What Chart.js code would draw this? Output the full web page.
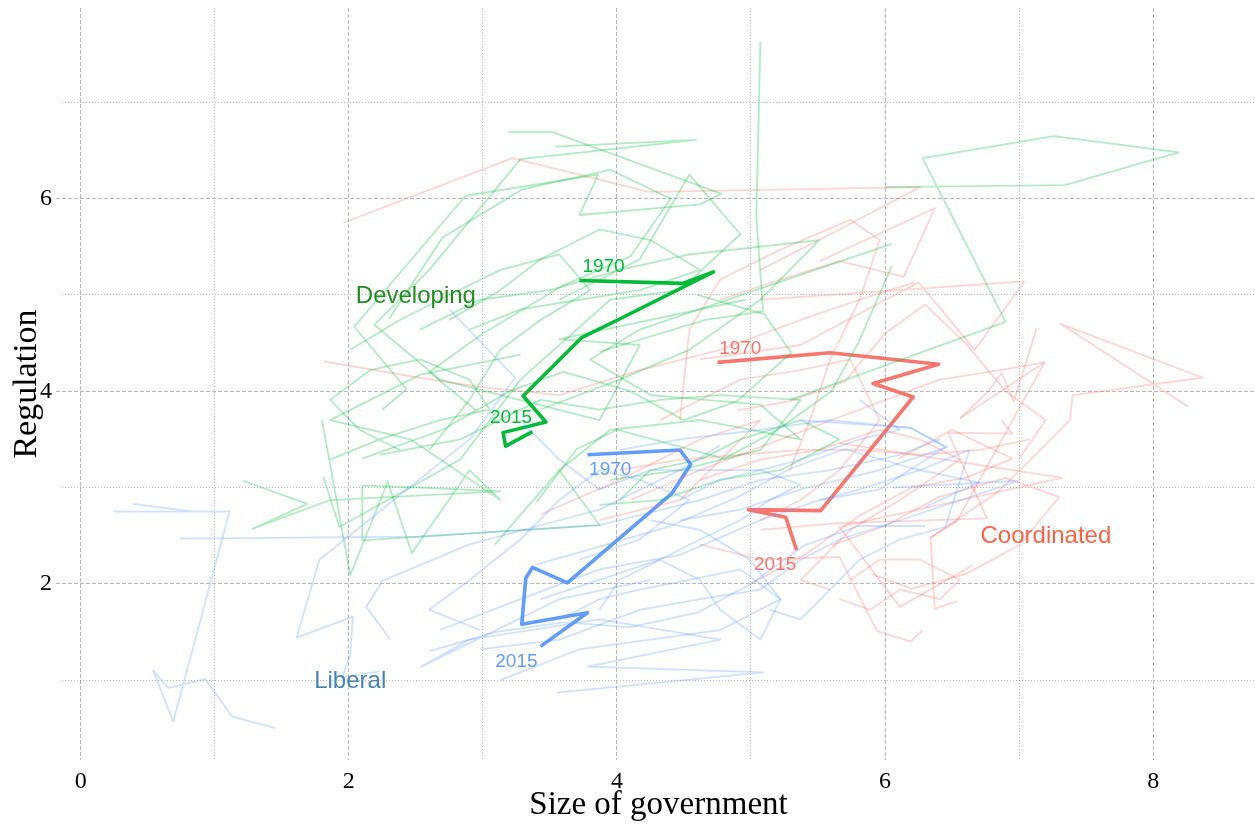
<!DOCTYPE html>
<html>
<head>
<meta charset="utf-8">
<script src="https://cdn.jsdelivr.net/npm/chart.js@4.4.1/dist/chart.umd.min.js"></script>
<style>
  html, body { margin: 0; padding: 0; background: #fff; }
  #chart { display: block; }
</style>
</head>
<body>
<canvas id="chart" width="1255" height="825"></canvas>
<script>
// axis ticks
const xTicks = [0, 1, 2, 3, 4, 5, 6, 7, 8];
const yTicks = [1, 2, 3, 4, 5, 6, 7];

// group averages, 1970 -> 2015
const developingMean = [[3.72, 5.15], [4.49, 5.12], [4.72, 5.24], [4.02, 4.75], [3.74, 4.56],
    [3.30, 3.95], [3.47, 3.68], [3.15, 3.57], [3.17, 3.43], [3.37, 3.58]];
const liberalMean = [[3.78, 3.34], [4.47, 3.39], [4.55, 3.24], [4.41, 2.94], [3.63, 2.01],
    [3.37, 2.17], [3.32, 2.06], [3.29, 1.58], [3.78, 1.70], [3.43, 1.35]];
const coordinatedMean = [[4.75, 4.30], [5.59, 4.40], [6.40, 4.28], [5.91, 4.08], [6.21, 3.94],
    [5.52, 2.76], [4.98, 2.77], [5.26, 2.69], [5.34, 2.35]];

// single countries
const developingPaths = [
    [[3.19, 6.69], [3.52, 6.69], [4.78, 6.05], [4.62, 5.94], [3.72, 5.83], [3.86, 6.25], [2.87, 6.03], [2.04, 4.67], [2.43, 4.02], [2.25, 3.81]],
    [[3.54, 6.54], [4.59, 6.61], [3.28, 6.41], [2.60, 5.26], [2.19, 4.69], [2.68, 4.12], [3.87, 3.70], [4.17, 4.48], [3.57, 4.54], [4.96, 4.95]],
    [[1.80, 3.70], [2.01, 2.09], [2.29, 3.06], [2.47, 2.32], [2.90, 3.18], [3.13, 2.87], [2.46, 3.50], [1.86, 3.70], [2.53, 4.17], [3.28, 4.38]],
    [[1.21, 3.07], [1.69, 2.83], [1.28, 2.57], [1.86, 2.87], [3.13, 2.96], [2.53, 3.00], [2.10, 3.02], [2.10, 2.45], [3.87, 2.61], [3.57, 3.18]],
    [[1.81, 3.11], [1.93, 2.59], [2.83, 3.29], [3.28, 4.12], [3.95, 4.95], [4.47, 5.05], [4.92, 5.63], [4.54, 6.25], [4.17, 5.37], [3.57, 4.95]],
    [[3.87, 4.41], [4.66, 4.74], [5.09, 4.83], [5.04, 5.81], [5.07, 7.63]],
    [[5.29, 3.91], [6.90, 4.72], [6.28, 6.42], [7.26, 6.65], [8.19, 6.48], [7.34, 6.14], [6.00, 6.12]],
    [[3.09, 2.41], [3.57, 3.18], [3.95, 3.60], [4.62, 3.70], [5.37, 3.50], [5.07, 3.86], [4.25, 3.96], [3.80, 4.33], [4.17, 4.64], [6.05, 5.53]],
    [[2.53, 4.64], [2.98, 4.95], [3.50, 5.05], [4.02, 5.26], [4.54, 5.42], [5.51, 5.57], [5.07, 4.95], [4.54, 4.43], [4.02, 4.12], [3.43, 3.81]],
    [[2.23, 3.34], [2.83, 3.50], [3.43, 3.91], [3.87, 3.81], [4.32, 3.91], [4.77, 3.96], [5.37, 3.91], [5.07, 3.39], [4.47, 3.18], [3.95, 3.08]],
    [[2.60, 3.39], [2.90, 3.91], [3.13, 4.43], [3.43, 4.74], [3.80, 5.05], [3.57, 5.42], [3.13, 5.26], [2.68, 4.95], [2.38, 4.74], [2.01, 4.43]],
    [[3.87, 2.82], [4.32, 2.87], [4.77, 3.08], [5.22, 3.18], [5.66, 3.50], [5.37, 3.70], [4.92, 3.50], [4.62, 3.29], [4.25, 3.18], [4.02, 2.87]],
    [[2.90, 4.64], [3.28, 4.85], [3.72, 4.95], [4.17, 5.05], [4.62, 5.26], [4.25, 5.57], [3.87, 5.68], [3.43, 5.37], [3.13, 5.05], [2.75, 4.74]],
    [[1.86, 3.29], [2.23, 3.50], [2.68, 3.70], [3.05, 3.81], [2.90, 4.12], [2.53, 4.33], [2.16, 4.22], [1.86, 3.91], [2.08, 3.60], [2.38, 3.39]],
    [[2.30, 4.75], [2.70, 5.60], [3.30, 6.10], [3.95, 6.30], [4.40, 6.00], [4.10, 5.40], [3.60, 5.10], [3.00, 4.60], [2.60, 4.20], [2.95, 3.80]],
    [[2.10, 3.30], [2.70, 3.60], [3.20, 4.00], [3.60, 4.20], [4.10, 4.00], [4.50, 3.70], [4.90, 3.90], [5.30, 4.40], [5.10, 4.80], [4.60, 5.00]],
    [[3.40, 2.85], [3.70, 3.40], [4.00, 3.60], [4.40, 3.45], [4.80, 3.30], [5.20, 3.60], [5.60, 4.00], [5.80, 4.50], [6.05, 5.30]]
];
const liberalPaths = [
    [[0.39, 2.83], [0.84, 2.75], [0.25, 2.75], [1.11, 2.75], [0.69, 0.57], [0.54, 1.10], [0.65, 0.92], [0.93, 1.01], [1.13, 0.62], [1.45, 0.50]],
    [[0.74, 2.47], [2.53, 2.49], [3.87, 2.61], [4.62, 2.87], [5.07, 3.08], [5.59, 3.18], [6.11, 3.34], [6.41, 3.50]],
    [[2.75, 4.85], [3.24, 4.14], [2.90, 3.50], [1.78, 2.25], [1.61, 1.44], [2.03, 1.66], [2.01, 1.26], [1.95, 1.03], [2.23, 1.09]],
    [[2.31, 1.42], [2.13, 1.76], [2.25, 2.03], [2.90, 2.41], [3.57, 2.66], [3.87, 2.77], [4.47, 3.18], [4.77, 3.44]],
    [[3.55, 0.87], [5.09, 1.08], [3.78, 1.14], [4.77, 1.42], [3.87, 1.63], [2.90, 1.42], [2.54, 1.14], [3.57, 1.84], [4.25, 2.04]],
    [[2.68, 1.52], [3.28, 1.84], [3.87, 2.15], [4.47, 2.30], [5.07, 2.66], [5.51, 2.87], [5.96, 2.98], [6.45, 3.42], [6.19, 3.62], [5.37, 3.70]],
    [[2.98, 1.32], [3.57, 1.42], [4.17, 1.73], [4.62, 1.84], [5.07, 1.94], [5.37, 2.25], [5.66, 2.46], [6.11, 2.66], [7.00, 3.07], [6.06, 3.00]],
    [[3.13, 1.00], [3.72, 1.32], [4.25, 1.42], [4.77, 1.52], [5.22, 1.84], [4.92, 2.15], [4.54, 2.04], [4.17, 1.94], [3.87, 1.84], [3.57, 1.63]],
    [[4.02, 3.39], [4.47, 3.50], [5.07, 3.60], [5.59, 3.70], [6.19, 3.62], [6.46, 3.42], [5.96, 3.18], [5.37, 2.98], [4.92, 2.77], [4.47, 2.66]],
    [[3.43, 1.84], [3.87, 2.04], [4.32, 2.25], [4.62, 2.46], [4.92, 2.66], [5.14, 2.87], [5.37, 3.03], [5.07, 3.18], [4.77, 3.08], [4.47, 2.87]],
    [[4.25, 2.66], [4.62, 2.56], [4.99, 2.25], [5.22, 1.84], [5.07, 1.42], [4.77, 1.73], [4.62, 2.04], [4.32, 2.25], [4.02, 2.04], [3.87, 1.73]],
    [[3.72, 2.25], [4.17, 2.46], [4.54, 2.87], [4.17, 3.08], [3.87, 3.18], [3.57, 2.87], [3.28, 2.46], [2.90, 2.04], [2.60, 1.73], [2.98, 1.52]],
    [[5.51, 2.87], [5.81, 2.98], [6.26, 3.18], [6.63, 3.39], [6.45, 2.59], [6.11, 2.46], [5.81, 2.25], [5.59, 1.94], [5.37, 1.63], [5.14, 1.73]],
    [[3.28, 3.70], [3.57, 3.29], [3.87, 2.98], [4.25, 3.18], [4.62, 3.18], [5.07, 3.18], [5.37, 3.29], [5.81, 3.50], [6.11, 3.60], [5.81, 3.91]],
    [[3.40, 2.20], [3.90, 2.40], [4.40, 2.60], [4.90, 2.90], [5.30, 3.20], [5.70, 3.40], [6.20, 3.20], [6.70, 3.05], [6.30, 2.80]],
    [[2.60, 1.30], [3.10, 1.50], [3.60, 1.60], [4.10, 1.55], [4.60, 1.70], [5.00, 2.00], [5.40, 2.40], [5.80, 2.60], [6.30, 2.60]]
];
const coordinatedPaths = [
    [[1.96, 5.75], [3.22, 6.42], [4.24, 6.07], [6.26, 6.12], [5.66, 5.68], [5.07, 5.26]],
    [[1.81, 4.31], [2.53, 4.14], [3.00, 4.04], [3.57, 3.96], [4.17, 4.22], [4.77, 4.43], [5.37, 4.74], [5.81, 4.95], [6.22, 5.13]],
    [[5.51, 5.35], [6.37, 5.90], [6.14, 5.19], [5.66, 5.35], [5.22, 5.16], [4.77, 4.95]],
    [[5.07, 4.95], [7.04, 5.14], [6.67, 4.43], [6.25, 5.13], [5.37, 4.48], [4.62, 4.33]],
    [[8.26, 3.84], [7.31, 4.70], [8.37, 4.14], [7.40, 3.96], [7.38, 3.70], [6.84, 2.95], [6.34, 2.48], [6.54, 2.66]],
    [[7.13, 4.65], [6.96, 3.89], [6.87, 4.19], [6.76, 3.98], [6.56, 3.72]],
    [[5.66, 3.46], [7.32, 3.10], [5.66, 2.59], [6.11, 1.76], [6.65, 2.19]],
    [[6.87, 3.70], [6.95, 3.56], [6.47, 3.57], [6.76, 2.68], [5.66, 2.63], [5.07, 2.56]],
    [[6.28, 1.52], [6.19, 1.40], [5.94, 1.51], [5.66, 2.28], [5.07, 2.25], [4.62, 2.41]],
    [[6.54, 1.82], [6.37, 1.74], [6.34, 2.48], [6.54, 2.66], [7.19, 4.30], [6.56, 3.72]],
    [[4.10, 2.87], [4.62, 3.18], [5.22, 3.50], [5.81, 3.81], [6.41, 4.12], [6.86, 4.22], [7.19, 4.30]],
    [[4.32, 3.70], [4.62, 3.91], [4.92, 4.12], [5.37, 4.22], [5.74, 4.33], [5.96, 3.70], [5.66, 3.18], [5.37, 2.87], [5.07, 2.66]],
    [[4.62, 3.08], [5.07, 3.29], [5.51, 3.39], [5.96, 3.60], [6.26, 3.50], [6.56, 3.29], [6.11, 2.87], [5.74, 2.56], [5.37, 2.04], [5.59, 1.94]],
    [[4.47, 3.70], [4.54, 4.64], [4.77, 5.16], [5.22, 5.47], [5.74, 5.78], [5.96, 5.57], [5.81, 4.95], [5.59, 4.33], [5.44, 3.70], [5.29, 3.18]],
    [[4.02, 3.18], [4.47, 3.29], [4.92, 3.34], [5.37, 3.39], [5.81, 3.39], [6.26, 3.34], [6.71, 3.39], [7.08, 3.50]],
    [[5.74, 2.04], [5.96, 2.25], [6.26, 2.25], [6.56, 2.04], [6.41, 1.84], [6.11, 1.94], [5.89, 1.73], [5.66, 1.84]],
    [[3.43, 2.72], [4.02, 3.08], [4.62, 3.50], [5.07, 3.70], [4.47, 2.87], [3.87, 2.66]],
    [[5.60, 2.40], [6.00, 2.60], [6.40, 2.90], [6.90, 3.10], [7.30, 2.90], [7.00, 2.40], [6.60, 2.10], [6.20, 1.95], [5.90, 2.10]],
    [[4.90, 3.80], [5.30, 3.90], [5.70, 4.10], [6.00, 4.60], [6.30, 4.90], [6.60, 4.50], [6.90, 4.00], [7.20, 3.70], [7.00, 3.30]],
    [[5.00, 2.00], [5.40, 2.30], [5.80, 2.70], [6.20, 3.00], [6.60, 3.10], [6.95, 3.30], [6.50, 3.60], [6.10, 3.30]]
];

// text placed on the plot
const groupLabels = [
    { text: 'Developing', x: 2.50, y: 4.99, color: '#228B22' },
    { text: 'Liberal', x: 2.01, y: 0.99, color: '#4682B4' },
    { text: 'Coordinated', x: 7.20, y: 2.49, color: '#FF6347' }
];
const yearLabels = [
    { text: '1970', x: 3.90, y: 5.29, color: '#00BA38' },
    { text: '2015', x: 3.21, y: 3.72, color: '#00BA38' },
    { text: '1970', x: 3.95, y: 3.18, color: '#619CFF' },
    { text: '2015', x: 3.25, y: 1.19, color: '#619CFF' },
    { text: '1970', x: 4.92, y: 4.44, color: '#F8766D' },
    { text: '2015', x: 5.18, y: 2.20, color: '#F8766D' }
];

const toPoints = path => path.map(p => ({ x: p[0], y: p[1] }));

function faint(paths, color) {
    return paths.map(path => ({
        data: toPoints(path),
        showLine: true,
        borderColor: color,
        borderWidth: 1.8,
        pointRadius: 0,
        tension: 0,
        borderJoinStyle: 'round'
    }));
}

function bold(path, color) {
    return {
        data: toPoints(path),
        showLine: true,
        borderColor: color,
        borderWidth: 3.6,
        pointRadius: 0,
        tension: 0,
        borderJoinStyle: 'round'
    };
}

const datasets = [].concat(
    faint(liberalPaths, 'rgba(97, 156, 255, 0.3)'),
    faint(developingPaths, 'rgba(0, 186, 56, 0.3)'),
    faint(coordinatedPaths, 'rgba(248, 118, 109, 0.3)'),
    [bold(developingMean, '#00BA38'), bold(liberalMean, '#619CFF'), bold(coordinatedMean, '#F8766D')]
);

const textPlugin = {
    id: 'plotText',
    afterDatasetsDraw(chart) {
        const ctx = chart.ctx;
        const xs = chart.scales.x;
        const ys = chart.scales.y;
        ctx.save();
        ctx.textAlign = 'center';
        ctx.textBaseline = 'middle';
        ctx.font = '24px "Liberation Sans", Arial, sans-serif';
        groupLabels.forEach(l => {
            ctx.fillStyle = l.color;
            ctx.fillText(l.text, xs.getPixelForValue(l.x), ys.getPixelForValue(l.y));
        });
        ctx.font = '19px "Liberation Sans", Arial, sans-serif';
        yearLabels.forEach(l => {
            ctx.fillStyle = l.color;
            ctx.fillText(l.text, xs.getPixelForValue(l.x), ys.getPixelForValue(l.y));
        });
        ctx.restore();
    }
};

const isMajor = ctx => ctx.tick && Math.round(ctx.tick.value) % 2 === 0;
const gridColor = 'rgba(0, 0, 0, 0.28)';
const serif = '"Liberation Serif", "DejaVu Serif", serif';

new Chart(document.getElementById('chart').getContext('2d'), {
    type: 'scatter',
    data: { datasets },
    options: {
        responsive: false,
        animation: false,
        devicePixelRatio: 1,
        layout: { padding: { top: 8, right: 0, left: 0, bottom: 0 } },
        plugins: {
            legend: { display: false },
            tooltip: { enabled: false }
        },
        scales: {
            x: {
                min: -0.14,
                max: 8.76,
                afterBuildTicks: scale => { scale.ticks = xTicks.map(v => ({ value: v })); },
                afterFit: scale => {
                    scale.height = 65;
                    scale.paddingLeft = 0;
                    scale.paddingRight = 0;
                },
                ticks: {
                    autoSkip: false,
                    maxRotation: 0,
                    padding: 7,
                    color: '#000',
                    font: { family: serif, size: 24 },
                    callback: v => (v % 2 === 0 ? String(v) : '')
                },
                grid: {
                    color: gridColor,
                    lineWidth: 1,
                    drawTicks: false
                },
                border: {
                    display: false,
                    dash: ctx => (isMajor(ctx) ? [4, 2] : [1, 2])
                },
                title: {
                    display: true,
                    text: 'Size of government',
                    color: '#000',
                    font: { family: serif, size: 33 },
                    padding: 0
                }
            },
            y: {
                min: 0.17,
                max: 7.98,
                afterBuildTicks: scale => { scale.ticks = yTicks.map(v => ({ value: v })); },
                afterFit: scale => {
                    scale.width = 62;
                    scale.paddingTop = 0;
                    scale.paddingBottom = 0;
                },
                ticks: {
                    autoSkip: false,
                    padding: 4,
                    color: '#000',
                    font: { family: serif, size: 24 },
                    callback: v => (v % 2 === 0 ? String(v) : '')
                },
                grid: {
                    color: gridColor,
                    lineWidth: 1,
                    drawTicks: true,
                    tickLength: 6,
                    tickColor: ctx => (isMajor(ctx) ? gridColor : 'rgba(0,0,0,0)'),
                    tickBorderDash: [4, 2]
                },
                border: {
                    display: false,
                    dash: ctx => (isMajor(ctx) ? [4, 2] : [1, 2])
                },
                title: {
                    display: true,
                    text: 'Regulation',
                    color: '#000',
                    font: { family: serif, size: 34 },
                    padding: { top: 7, bottom: 0 }
                }
            }
        }
    },
    plugins: [textPlugin]
});
</script>
</body>
</html>
